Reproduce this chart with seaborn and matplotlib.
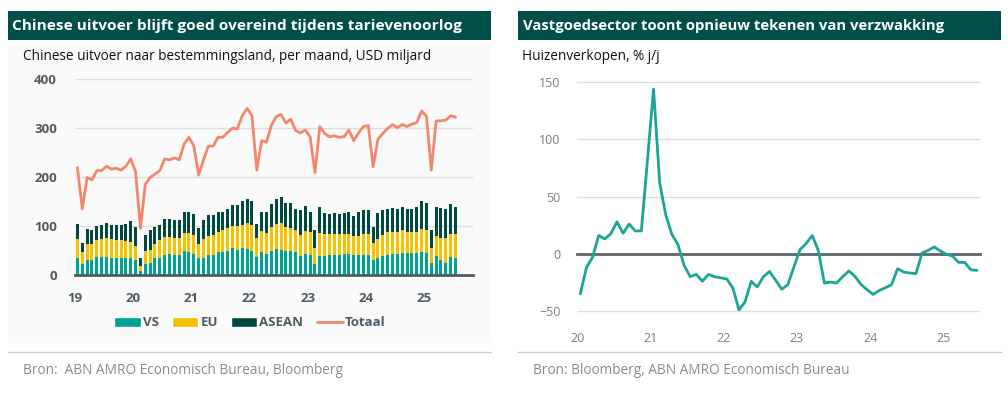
import numpy as np
import pandas as pd
import matplotlib
matplotlib.use("Agg")
import matplotlib.pyplot as plt
from matplotlib.patches import Patch, Rectangle
from matplotlib.lines import Line2D
import seaborn as sns

# ---------------- data ----------------
# Left chart: monthly Chinese exports by destination, Jan 2019 - Jul 2025 (USD bn)
years_left = ["19", "20", "21", "22", "23", "24", "25"]
vs = [34, 22, 31, 31, 37, 37, 37, 34, 34, 34, 34, 34,
      31, 8, 23, 25, 34, 35, 41, 42, 41, 41, 49, 46,
      42, 34, 35, 41, 41, 46, 46, 49, 56, 52, 56, 54,
      49, 37, 46, 42, 49, 54, 52, 48, 48, 46, 39, 42,
      41, 23, 39, 39, 40, 41, 41, 42, 42, 41, 41, 41,
      41, 30, 34, 39, 41, 42, 42, 45, 44, 44, 44, 46,
      44, 25, 39, 30, 25, 37, 34]
eu = [39, 25, 32, 32, 34, 36, 38, 39, 37, 37, 35, 34,
      28, 10, 25, 27, 29, 36, 37, 36, 34, 34, 37, 40,
      40, 29, 38, 39, 41, 42, 45, 46, 44, 48, 47, 53,
      53, 38, 44, 44, 49, 51, 54, 50, 47, 45, 43, 48,
      47, 33, 47, 45, 44, 43, 43, 42, 42, 39, 39, 42,
      43, 35, 39, 43, 47, 46, 46, 46, 43, 44, 44, 47,
      47, 31, 41, 46, 50, 46, 49]
asean = [32, 19, 30, 28, 29, 29, 32, 29, 31, 31, 36, 42,
         38, 16, 33, 39, 35, 32, 36, 36, 37, 37, 43, 43,
         42, 33, 39, 42, 40, 41, 38, 40, 43, 42, 48, 49,
         49, 30, 39, 43, 46, 51, 53, 48, 51, 44, 50, 51,
         41, 35, 52, 42, 40, 42, 40, 43, 45, 40, 49, 49,
         48, 33, 54, 50, 47, 48, 46, 48, 48, 47, 51, 59,
         55, 35, 59, 60, 59, 61, 55]
totaal = [219, 135, 199, 194, 213, 213, 222, 216, 218, 214, 222, 237,
          211, 95, 185, 199, 206, 213, 237, 235, 239, 235, 267, 281,
          264, 204, 235, 263, 263, 281, 281, 291, 300, 298, 325, 340,
          325, 214, 274, 271, 305, 323, 328, 310, 318, 295, 290, 296,
          282, 209, 303, 289, 282, 284, 281, 282, 296, 274, 290, 303,
          305, 221, 277, 289, 299, 307, 301, 307, 303, 308, 311, 335,
          324, 214, 314, 315, 316, 325, 322]

# Right chart: house sales, % y/y, Jan 2020 - Jun 2025
years_right = ["20", "21", "22", "23", "24", "25"]
huizen = [-35, -12, -3, 16, 13, 17.5, 28, 18, 26, 20, 20, 82,
          144, 62, 34, 17, 8, -10, -20, -18, -24, -18, -20, -21,
          -22, -30, -49, -42, -24, -29, -20, -15.5, -23, -31, -27, -11.5,
          3.6, 9, 16, 3, -25.6, -24.7, -25.6, -20, -15, -19.7, -26.8, -31.4,
          -35.5, -32, -29.7, -27, -13, -16, -16.8, -17.4, 0.7, 3, 6, 2.5,
          -0.4, -2, -7.5, -7.5, -14, -14.5]

# ---------------- style ----------------
sns.set_theme(style="white")
plt.rcParams["font.family"] = ["Open Sans", "DejaVu Sans"]

C_VS = "#00a393"
C_EU = "#f5c200"
C_ASEAN = "#00493f"
C_TOT = "#f3876d"
C_LINE = "#1aa594"
C_HEAD = "#004f49"
C_AX = "#4e5b63"
C_GRID = "#dedede"

W, H = 1008, 399
fig = plt.figure(figsize=(W / 100, H / 100), dpi=100)
fig.patch.set_facecolor("white")


def px_axes(x0, y0, x1, y1, **kw):
    return fig.add_axes([x0 / W, 1 - y1 / H, (x1 - x0) / W, (y1 - y0) / H], **kw)


def fig_rect(x0, y0, x1, y1, color, z=0):
    fig.patches.append(Rectangle((x0 / W, 1 - y1 / H), (x1 - x0) / W, (y1 - y0) / H,
                                 transform=fig.transFigure, facecolor=color,
                                 edgecolor="none", zorder=z))


def fig_hline(x0, x1, y, color):
    fig.lines.append(Line2D([x0 / W, x1 / W], [1 - y / H, 1 - y / H],
                            transform=fig.transFigure, color=color, lw=1, zorder=-1))


# panel background & headers
fig_rect(8, 43, 491, 343, "#fafafa", z=-5)
fig_rect(8, 11, 491, 40, C_HEAD, z=-4)
fig_rect(518, 11, 1001, 40, C_HEAD, z=-4)
fig.text(12 / W, 1 - 26 / H, "Chinese uitvoer blijft goed overeind tijdens tarievenoorlog",
         color="white", fontsize=11.1, fontweight="bold", va="center", ha="left")
fig.text(523 / W, 1 - 26 / H, "Vastgoedsector toont opnieuw tekenen van verzwakking",
         color="white", fontsize=10.7, fontweight="bold", va="center", ha="left")
fig.text(23 / W, 1 - 57 / H, "Chinese uitvoer naar bestemmingsland, per maand, USD miljard",
         color="#111111", fontsize=9.8, va="center", ha="left")
fig.text(522 / W, 1 - 57 / H, "Huizenverkopen, % j/j",
         color="#111111", fontsize=9.8, va="center", ha="left")
fig_hline(8, 491, 352, "#cccccc")
fig_hline(518, 1001, 352, "#cccccc")
fig.text(23 / W, 1 - 370 / H, "Bron:  ABN AMRO Economisch Bureau, Bloomberg",
         color="#8a8a8a", fontsize=9.8, va="center", ha="left")
fig.text(533 / W, 1 - 370 / H, "Bron: Bloomberg, ABN AMRO Economisch Bureau",
         color="#8a8a8a", fontsize=9.8, va="center", ha="left")

# ---------------- left chart ----------------
n = len(totaal)
df = pd.DataFrame({
    "pos": np.arange(n) + 0.5,
    "VS": vs, "EU": eu, "ASEAN": asean, "Totaal": totaal,
})
df["VS_EU"] = df["VS"] + df["EU"]
df["ALL3"] = df["VS_EU"] + df["ASEAN"]

ax1 = px_axes(75, 79, 472.5, 275)
ax1.set_facecolor("none")
for col, c in [("ALL3", C_ASEAN), ("VS_EU", C_EU), ("VS", C_VS)]:
    sns.barplot(data=df, x="pos", y=col, native_scale=True, orient="x",
                color=c, saturation=1, width=0.62, linewidth=0,
                errorbar=None, ax=ax1, zorder=2)
sns.lineplot(data=df, x="pos", y="Totaal", color=C_TOT, linewidth=2, ax=ax1, zorder=3)
ax1.set_xlim(0, 82)
ax1.set_ylim(0, 400)
ax1.set_yticks([0, 100, 200, 300, 400])
ax1.set_xticks(np.arange(len(years_left)) * 12)
ax1.set_xticklabels(years_left)
ax1.set_xlabel("")
ax1.set_ylabel("")
ax1.yaxis.grid(True, color=C_GRID, lw=1, zorder=0)
ax1.xaxis.grid(False)
ax1.set_axisbelow(True)
for s in ["top", "right", "left"]:
    ax1.spines[s].set_visible(False)
ax1.spines["bottom"].set_color(C_AX)
ax1.spines["bottom"].set_linewidth(2)
ax1.tick_params(axis="x", direction="out", length=4, width=1.5, color=C_AX,
                labelcolor=C_AX, labelsize=9.5, pad=8)
ax1.tick_params(axis="y", length=0, labelcolor=C_AX, labelsize=9.5, pad=13)
for lab in ax1.get_xticklabels() + ax1.get_yticklabels():
    lab.set_fontweight("bold")

handles = [Patch(facecolor=C_VS, label="VS"),
           Patch(facecolor=C_EU, label="EU"),
           Patch(facecolor=C_ASEAN, label="ASEAN"),
           Line2D([0], [0], color=C_TOT, lw=2, label="Totaal")]
leg = fig.legend(handles=handles, loc="center", bbox_to_anchor=(250 / W, 1 - 323 / H),
                 ncol=4, frameon=False, handlelength=2.0, handleheight=0.75,
                 handletextpad=0.15, columnspacing=1.0,
                 prop={"size": 9.5, "weight": "bold"})
for t in leg.get_texts():
    t.set_color(C_AX)

# ---------------- right chart ----------------
m = len(huizen)
dfr = pd.DataFrame({"pos": np.arange(m) + 0.5, "Huizenverkopen": huizen})
ax2 = px_axes(577.3, 80.0, 980, 316.7)
ax2.set_facecolor("none")
sns.lineplot(data=dfr, x="pos", y="Huizenverkopen", color=C_LINE, linewidth=2, ax=ax2, zorder=3)
ax2.set_xlim(0, 66)
ax2.set_ylim(-55, 152)
ax2.set_yticks([-50, 0, 50, 100, 150])
ax2.set_xticks(np.arange(len(years_right)) * 12)
ax2.set_xticklabels(years_right)
ax2.set_xlabel("")
ax2.set_ylabel("")
ax2.yaxis.grid(True, color=C_GRID, lw=1, zorder=0)
ax2.xaxis.grid(False)
ax2.set_axisbelow(True)
for s in ["top", "right", "left"]:
    ax2.spines[s].set_visible(False)
ax2.spines["bottom"].set_position(("data", 0))
ax2.spines["bottom"].set_color("#5c656b")
ax2.spines["bottom"].set_linewidth(2)
ax2.spines["bottom"].set_zorder(2)
ax2.tick_params(axis="x", direction="out", length=4, width=1.5, color="#5c656b",
                labelcolor="#7d7d7d", labelsize=9, pad=52)
ax2.tick_params(axis="y", length=0, labelcolor="#7d7d7d", labelsize=9, pad=12)

fig.savefig("out.png", dpi=100, facecolor="white")
